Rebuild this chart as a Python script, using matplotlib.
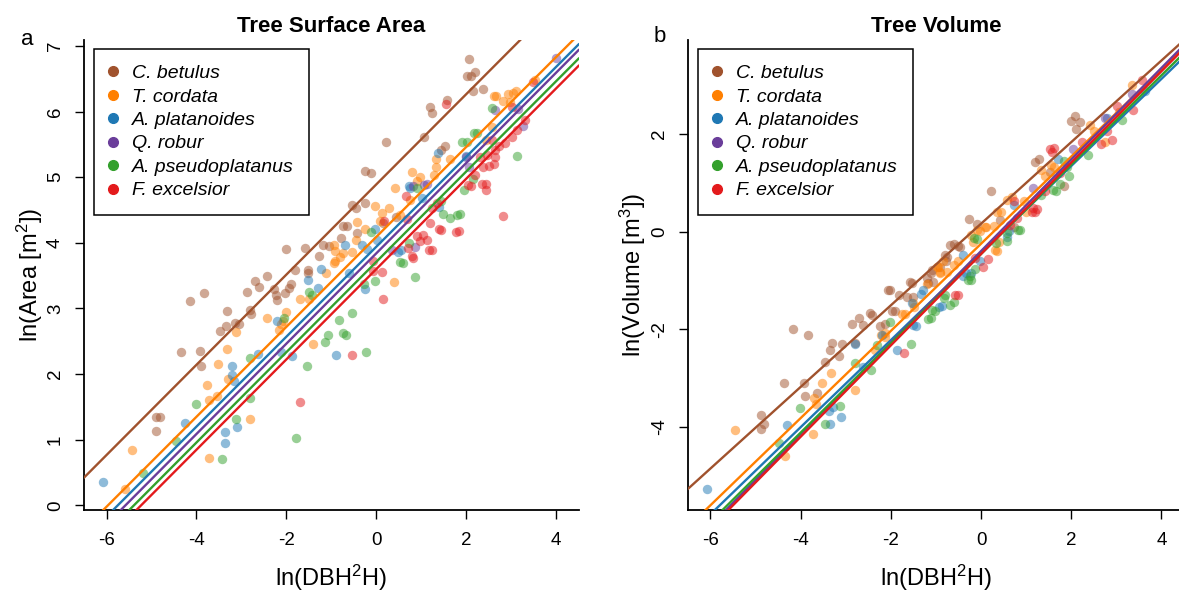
import matplotlib
matplotlib.use("Agg")
import matplotlib.pyplot as plt
from matplotlib.lines import Line2D

plt.rcParams['font.family'] = ['Liberation Sans', 'DejaVu Sans']
plt.rcParams['mathtext.default'] = 'regular'
plt.rcParams['axes.unicode_minus'] = False

species = ['C. betulus', 'T. cordata', 'A. platanoides', 'Q. robur',
           'A. pseudoplatanus', 'F. excelsior']
colors = ['#A0522D', '#FF7F00', '#1F78B4', '#6A3D9A', '#33A02C', '#E31A1C']

# ---- panel a: ln(area) against ln(DBH^2 H), (x, y) per tree ----
area_betulus = [(2.07, 6.80), (2.01, 6.54), (2.11, 6.54), (2.20, 6.61), (2.16, 6.31),
                (2.38, 6.35), (1.57, 6.18), (1.19, 6.07), (1.25, 5.98), (1.07, 5.62),
                (0.21, 5.53), (1.53, 5.48), (1.44, 5.41), (-0.26, 5.09), (-0.11, 5.06),
                (-0.55, 4.58), (-0.46, 4.53), (-0.26, 4.61), (-0.74, 4.26), (-0.65, 4.25),
                (-0.43, 4.15), (-0.78, 4.08), (-1.18, 3.97), (-1.05, 3.95), (-1.58, 3.92),
                (-2.01, 3.90), (-1.28, 3.80), (-1.52, 3.59), (-1.81, 3.58), (-1.52, 3.54),
                (-2.42, 3.49), (-2.69, 3.42), (-1.89, 3.37), (-2.60, 3.33), (-1.94, 3.31),
                (-2.28, 3.30), (-2.02, 3.24), (-3.83, 3.23), (-2.88, 3.25), (-2.22, 3.20),
                (-2.21, 3.13), (-4.14, 3.12), (-2.81, 2.97), (-2.78, 2.91), (-3.31, 2.96),
                (-3.15, 2.78), (-3.06, 2.76), (-3.34, 2.74), (-3.47, 2.65), (-3.92, 2.36),
                (-4.35, 2.33), (-3.90, 2.12), (-4.91, 1.34), (-4.82, 1.34), (-4.89, 1.14),
                (0.15, 4.30), (0.45, 4.40)]
area_cordata = [(3.54, 6.48), (2.66, 6.23), (2.83, 6.16), (3.04, 6.29), (3.10, 6.31),
                (2.98, 6.15), (2.58, 5.76), (2.45, 5.56), (1.64, 5.27), (1.34, 5.28),
                (1.32, 5.16), (1.28, 5.03), (0.79, 5.08), (0.42, 4.83), (0.75, 4.65),
                (-0.03, 4.56), (0.28, 4.53), (0.12, 4.45), (0.08, 4.34), (-0.43, 4.32),
                (-0.24, 4.21), (-0.45, 4.05), (-0.95, 3.97), (-0.91, 3.88), (-0.55, 3.86),
                (-0.74, 3.84), (-0.81, 3.78), (-0.91, 3.73), (-0.95, 3.69), (-1.12, 3.54),
                (0.39, 3.40), (-1.49, 3.14), (-1.70, 3.14), (-2.00, 2.94), (-2.42, 2.85),
                (-2.08, 2.81), (-2.12, 2.76), (-3.11, 2.64), (-2.16, 2.67), (-3.31, 2.39),
                (-1.41, 2.46), (-3.52, 2.15), (-3.76, 1.84), (-3.72, 1.61), (-3.55, 1.67),
                (-3.30, 1.93), (-2.81, 1.32), (-3.72, 0.72), (-5.44, 0.85), (-5.58, 0.25),
                (0.97, 5.00), (0.52, 4.43), (2.61, 6.23), (2.94, 6.27), (0.90, 4.94)]
area_platanoides = [(-6.07, 0.35), (-4.26, 1.25), (-3.36, 1.12), (-3.10, 1.19), (-3.36, 0.95),
                    (-3.21, 2.13), (-3.21, 1.99), (-2.21, 2.81), (-1.87, 2.28), (-0.89, 2.29),
                    (-1.51, 3.43), (-1.30, 3.31), (-1.24, 3.60), (-0.70, 3.97), (-0.32, 3.97),
                    (-0.26, 3.30), (0.76, 4.84), (1.38, 5.37), (0.48, 3.86), (0.56, 3.89),
                    (-0.61, 3.54), (-0.03, 4.21), (1.99, 5.33), (1.40, 4.54), (-2.63, 2.30),
                    (-2.12, 2.33), (1.02, 4.69), (0.72, 4.86), (-3.17, 1.89), (0.01, 4.05),
                    (-0.21, 3.90)]
area_robur = [(4.00, 6.82), (2.64, 6.02), (3.26, 5.78), (3.16, 6.04), (2.00, 5.31),
              (1.13, 4.89), (0.87, 3.93), (0.81, 4.87), (0.35, 3.89), (2.07, 5.16),
              (1.07, 4.88)]
area_pseudoplatanus = [(-5.18, 0.50), (-4.45, 0.98), (-4.01, 1.54), (-3.44, 0.70), (-3.11, 1.31),
                       (-2.81, 1.64), (-2.81, 2.25), (-2.06, 2.85), (-1.79, 1.03), (-1.55, 2.13),
                       (-1.43, 3.21), (-1.13, 2.49), (-1.07, 2.59), (-0.82, 2.83), (-0.55, 2.93),
                       (-0.68, 2.59), (-0.23, 2.33), (-0.03, 3.42), (-0.11, 4.16), (0.60, 3.70),
                       (0.86, 3.48), (0.73, 4.00), (1.48, 4.44), (1.65, 4.38), (1.86, 4.44),
                       (1.95, 4.81), (2.01, 5.53), (2.24, 5.67), (2.58, 6.05), (3.12, 5.33),
                       (2.16, 4.98), (0.90, 4.84), (1.44, 4.64), (-0.28, 3.37), (2.18, 5.68),
                       (1.90, 5.54), (1.79, 4.43), (0.53, 3.71), (-0.73, 2.62), (-1.50, 3.25)]
area_excelsior = [(2.83, 4.41), (1.78, 4.17), (1.40, 4.21), (1.20, 4.31), (1.13, 4.05),
                  (1.18, 3.89), (0.98, 4.03), (1.05, 4.12), (0.90, 4.10), (0.79, 3.80),
                  (0.67, 4.72), (0.13, 3.56), (0.18, 4.33), (2.44, 4.81), (2.35, 4.90),
                  (2.20, 5.04), (2.05, 4.88), (2.38, 5.16), (2.50, 5.17), (2.61, 5.20),
                  (2.64, 5.31), (2.64, 5.42), (2.72, 5.47), (2.57, 5.57), (2.31, 5.31),
                  (2.46, 5.34), (2.87, 5.52), (3.02, 5.62), (3.13, 5.72), (3.31, 5.87),
                  (3.02, 6.07), (3.48, 6.45), (1.56, 6.12), (2.44, 4.90), (1.24, 4.53),
                  (1.35, 4.61), (0.68, 4.36), (0.14, 3.15), (-0.53, 2.29), (-1.70, 1.57),
                  (-0.07, 3.57), (-0.07, 3.72), (1.84, 4.18), (1.44, 4.19), (1.23, 3.89),
                  (0.81, 3.77), (0.71, 3.92), (2.11, 4.87)]
area_intercept = [4.89, 4.09, 3.94, 3.84, 3.71, 3.60]
area_slope = [0.687, 0.685, 0.685, 0.688, 0.688, 0.688]

# ---- panel b: ln(volume) against ln(DBH^2 H) ----
vol_betulus = [(-4.16, -1.99), (-3.83, -2.11), (-4.38, -3.09), (-3.92, -3.09), (-3.91, -3.36),
               (-3.63, -3.30), (-3.45, -2.68), (-3.36, -2.43), (-3.31, -2.28), (-3.14, -2.55),
               (-3.08, -2.30), (-2.79, -2.28), (-2.87, -1.89), (-2.71, -1.76), (-2.61, -1.91),
               (-2.41, -1.70), (-2.23, -1.93), (-2.12, -1.89), (-2.02, -1.19), (-1.97, -1.63),
               (-1.91, -1.63), (-1.57, -1.04), (-1.81, -1.29), (-1.51, -1.33), (-1.19, -0.96),
               (-1.07, -1.04), (-1.09, -0.78), (-0.77, -0.61), (-0.75, -0.53), (-0.61, -0.26),
               (-0.50, -0.30), (-0.27, 0.26), (-0.10, 0.15), (0.21, 0.84), (0.42, 0.24),
               (1.20, 1.43), (1.29, 1.48), (1.54, 1.22), (2.00, 2.27), (2.08, 2.37),
               (2.19, 2.25), (2.11, 2.10), (1.83, 0.94), (0.74, 0.09), (-4.87, -3.75),
               (-4.87, -4.04), (-4.81, -3.93), (-0.46, -0.31), (-0.69, -0.28), (-0.80, -0.48),
               (-0.91, -0.72), (-1.11, -0.84), (-1.17, -1.06), (-1.64, -1.34), (-2.06, -1.20),
               (-2.46, -1.67), (-1.53, -1.06)]
vol_cordata = [(-5.45, -4.07), (-3.73, -4.14), (-4.34, -4.60), (-3.53, -3.09), (-3.32, -2.90),
               (-3.71, -3.40), (-3.65, -3.54), (-2.79, -3.25), (-2.12, -2.16), (-2.13, -2.08),
               (-1.68, -1.68), (-1.49, -1.54), (-1.19, -1.08), (-0.96, -0.73), (-0.90, -0.84),
               (-0.84, -0.61), (-0.61, -0.69), (-0.50, -0.61), (-0.23, -0.07), (-0.02, 0.02),
               (0.11, 0.09), (0.28, 0.12), (0.45, 0.40), (0.40, -0.22), (0.36, -0.40),
               (0.95, 0.63), (1.62, 1.32), (1.41, 1.13), (2.42, 2.18), (2.50, 2.06),
               (2.76, 1.83), (3.05, 2.45), (3.34, 2.99), (0.99, 0.40), (-0.18, -0.22),
               (-2.35, -2.43), (-1.75, -1.68), (0.35, 0.40), (0.68, 0.71), (1.34, 1.26),
               (1.56, 1.36), (-0.10, 0.03), (0.09, 0.10), (-0.98, -0.72), (-0.91, -0.82),
               (-0.76, -0.82), (-1.50, -1.47), (0.31, -0.38), (0.57, 0.64), (-2.22, -2.12)]
vol_platanoides = [(-6.08, -5.26), (-4.30, -3.97), (-3.38, -3.67), (-3.29, -3.59), (-3.11, -3.79),
                   (-3.36, -3.94), (-2.79, -2.30), (-2.62, -2.78), (-1.87, -2.43), (-2.20, -2.12),
                   (-1.45, -1.93), (-1.53, -1.46), (-0.87, -1.53), (-0.39, -0.92), (-0.23, -0.84),
                   (0.57, -0.11), (-0.02, -0.61), (0.61, 0.01), (1.71, 1.48), (2.80, 2.33),
                   (3.64, 2.87), (0.74, 0.55), (-1.28, -1.19), (-1.50, -1.91), (-0.93, -1.54),
                   (-0.33, -0.84), (-0.39, -0.48), (-1.33, -1.27)]
vol_robur = [(3.34, 2.81), (2.04, 1.69), (1.16, 0.90), (2.76, 2.33)]
vol_pseudoplatanus = [(-4.01, -3.62), (-4.49, -4.33), (-3.13, -3.57), (-3.45, -3.94), (-2.79, -2.70),
                      (-2.44, -2.84), (-2.31, -2.32), (-2.03, -1.85), (-1.55, -2.30), (-1.11, -1.77),
                      (-1.03, -1.62), (-0.69, -1.50), (-0.83, -1.36), (-0.23, -1.00), (-0.24, -0.92),
                      (-0.14, -0.77), (-0.10, -0.15), (0.57, -0.19), (0.87, 0.03), (1.66, 0.82),
                      (1.96, 1.13), (1.83, 1.44), (2.38, 1.56), (3.13, 2.29), (1.90, 1.32),
                      (-0.28, -0.99), (-0.15, -0.14), (0.33, -0.24), (0.57, -0.04), (0.83, 0.03),
                      (1.34, 0.74), (1.59, 0.85), (1.75, 0.98), (-1.18, -1.78), (-1.09, -1.61),
                      (-0.80, -1.30), (-0.59, -1.44)]
vol_excelsior = [(-1.71, -2.49), (-0.52, -1.29), (0.15, -0.57), (0.74, 0.63), (1.24, 0.47),
                 (1.20, 0.40), (1.58, 1.63), (1.62, 1.71), (2.25, 1.83), (2.67, 1.80),
                 (2.91, 1.88), (3.01, 2.56), (3.37, 2.49), (3.58, 3.11), (2.80, 2.06),
                 (1.41, 0.82), (1.12, 0.40), (1.16, 0.49), (0.64, 0.13), (0.79, 0.27),
                 (-0.13, -0.55), (0.05, -0.72), (1.53, 1.68), (-0.58, -1.30), (1.75, 1.19)]
vol_intercept = [0.16, -0.25, -0.44, -0.40, -0.46, -0.46]
vol_slope = [0.835, 0.892, 0.891, 0.937, 0.914, 0.935]

area_points = [area_betulus, area_cordata, area_platanoides, area_robur,
               area_pseudoplatanus, area_excelsior]
vol_points = [vol_betulus, vol_cordata, vol_platanoides, vol_robur,
              vol_pseudoplatanus, vol_excelsior]


def draw_panel(ax, points, intercepts, slopes, ylim, yticks, title, ylabel):
    for pts, c in zip(points, colors):
        xs = [p[0] for p in pts]
        ys = [p[1] for p in pts]
        ax.scatter(xs, ys, s=46, color=c, alpha=0.5, linewidths=0, zorder=2)
    for b, m, c in zip(intercepts, slopes, colors):
        ax.axline((0, b), slope=m, color=c, lw=1.7, zorder=3)

    ax.set_xlim(-6.5, 4.5)
    ax.set_ylim(*ylim)
    ax.set_xticks([-6, -4, -2, 0, 2, 4])
    ax.set_yticks(yticks)
    for side in ['top', 'right']:
        ax.spines[side].set_visible(False)
    for side in ['left', 'bottom']:
        ax.spines[side].set_linewidth(1.3)
    ax.tick_params(direction='out', length=6.5, width=1, labelsize=13.5)
    ax.tick_params(axis='x', pad=9)
    ax.tick_params(axis='y', pad=8, labelrotation=90)
    for lab in ax.get_yticklabels():
        lab.set_va('center')

    ax.set_title(title, fontsize=16, fontweight='bold', pad=6)
    ax.set_xlabel('ln(DBH$^2$H)', fontsize=17)
    ax.set_ylabel(ylabel, fontsize=17)
    ax.xaxis.set_label_coords(0.5, -0.113)
    ax.yaxis.set_label_coords(-0.08, 0.5)

    handles = [Line2D([], [], ls='none', marker='o', ms=7, color=c) for c in colors]
    leg = ax.legend(handles, species, loc='upper left', bbox_to_anchor=(0.02, 0.981),
                    borderaxespad=0, prop={'style': 'italic', 'size': 14},
                    fancybox=False, framealpha=1, edgecolor='black',
                    handlelength=0.4, handletextpad=0.75, labelspacing=0.3,
                    borderpad=0.8)
    leg.get_frame().set_linewidth(1.1)


fig = plt.figure(figsize=(11.79, 5.94), dpi=100)
ax_a = fig.add_axes([0.0713, 0.1414, 0.4194, 0.7912])
ax_b = fig.add_axes([0.5835, 0.1414, 0.4207, 0.7912])

draw_panel(ax_a, area_points, area_intercept, area_slope, (-0.07, 7.09),
           [0, 1, 2, 3, 4, 5, 6, 7], 'Tree Surface Area', 'ln(Area [m$^2$])')
draw_panel(ax_b, vol_points, vol_intercept, vol_slope, (-5.70, 3.92),
           [-4, -2, 0, 2], 'Tree Volume', 'ln(Volume [m$^3$])')

fig.text(27.5 / 1179, 1 - 45 / 594, 'a', fontsize=16, ha='center', va='baseline')
fig.text(660 / 1179, 1 - 42 / 594, 'b', fontsize=16, ha='center', va='baseline')

fig.savefig('out.png', dpi=100)
